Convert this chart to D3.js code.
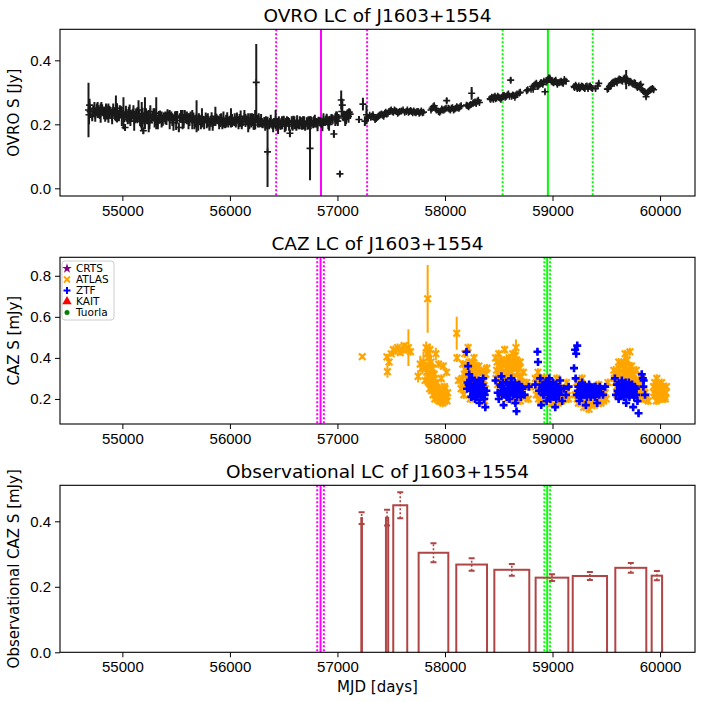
<!DOCTYPE html>
<html>
<head>
<meta charset="utf-8" />
<title>J1603+1554 light curves</title>
<script src="https://d3js.org/d3.v7.js"></script>
<style>
    body, html { margin: 0; padding: 0; background: #fff; }
    svg { display: block; font-family: "DejaVu Sans", sans-serif; }
    .tick text { font-size: 15px; fill: #000; }
    .title { font-size: 18.5px; text-anchor: middle; }
    .ylab, .xlab { font-size: 15px; text-anchor: middle; }
</style>
</head>
<body>
<div id="canvas"></div>
<script>
// OVRO 15 GHz points: [MJD, flux Jy, error]
var ovro = [
    [54685,0.245,0.085],[54690,0.23,0.03],[54695,0.26,0.02],[54720,0.225,0.015],[54740,0.25,0.02],
    [54755,0.238,0.012],[54770,0.245,0.025],[54790,0.232,0.015],[54805,0.25,0.02],[54820,0.24,0.012],
    [54840,0.228,0.02],[54855,0.245,0.015],[54870,0.235,0.03],[54890,0.242,0.012],[54905,0.22,0.02],
    [54925,0.238,0.015],[54940,0.25,0.04],[54960,0.23,0.015],[54975,0.24,0.02],[54995,0.225,0.03],
    [55010,0.235,0.05],[55025,0.19,0.01],[55040,0.228,0.02],[55060,0.24,0.015],[55075,0.22,0.025],
    [55095,0.235,0.012],[55110,0.21,0.03],[55130,0.23,0.02],[55150,0.245,0.03],[55165,0.215,0.02],
    [55180,0.225,0.045],[55195,0.18,0.01],[55210,0.235,0.05],[55230,0.22,0.02],[55245,0.21,0.035],
    [55260,0.24,0.02],[55280,0.225,0.015],[55300,0.22,0.03],[55315,0.235,0.05],[55330,0.205,0.02],
    [55350,0.228,0.015],[55365,0.215,0.025],[55385,0.225,0.012],[55400,0.22,0.02],[55420,0.232,0.015],
    [55440,0.215,0.03],[55455,0.225,0.015],[55475,0.205,0.025],[55490,0.228,0.012],[55510,0.222,0.02],
    [55525,0.19,0.015],[55545,0.225,0.02],[55560,0.215,0.03],[55580,0.23,0.015],[55600,0.22,0.02],
    [55615,0.21,0.025],[55635,0.225,0.015],[55650,0.215,0.03],[55670,0.205,0.02],[55690,0.225,0.05],
    [55705,0.2,0.02],[55720,0.215,0.015],[55740,0.22,0.03],[55760,0.205,0.02],[55775,0.222,0.015],
    [55795,0.215,0.02],[55810,0.195,0.015],[55830,0.218,0.02],[55850,0.21,0.015],[55865,0.225,0.03],
    [55885,0.212,0.012],[55900,0.205,0.02],[55920,0.22,0.015],[55940,0.215,0.025],[55955,0.2,0.012],
    [55975,0.218,0.02],[55995,0.212,0.015],[56010,0.22,0.03],[56030,0.208,0.012],[56045,0.215,0.02],
    [56065,0.222,0.015],[56080,0.205,0.02],[56100,0.218,0.025],[56120,0.21,0.015],[56135,0.225,0.02],
    [56155,0.212,0.012],[56170,0.205,0.03],[56190,0.22,0.015],[56205,0.215,0.02],[56220,0.208,0.025],
    [56235,0.215,0.03],[56245,0.331,0.12],[56260,0.21,0.02],[56275,0.205,0.015],[56290,0.212,0.02],
    [56305,0.2,0.012],[56320,0.208,0.015],[56335,0.205,0.02],[56350,0.114,0.11],[56365,0.2,0.015],
    [56380,0.21,0.02],[56395,0.198,0.012],[56410,0.205,0.015],[56425,0.215,0.03],[56440,0.2,0.02],
    [56455,0.21,0.015],[56470,0.195,0.012],[56485,0.205,0.02],[56500,0.212,0.015],[56520,0.2,0.02],
    [56540,0.208,0.015],[56558,0.172,0.012],[56575,0.205,0.02],[56590,0.212,0.015],[56610,0.198,0.012],
    [56625,0.208,0.02],[56640,0.2,0.015],[56660,0.21,0.012],[56680,0.205,0.02],[56700,0.195,0.015],
    [56715,0.21,0.012],[56730,0.205,0.02],[56745,0.125,0.1],[56760,0.208,0.015],[56775,0.2,0.012],
    [56790,0.21,0.02],[56805,0.205,0.015],[56825,0.212,0.012],[56850,0.205,0.015],[56870,0.215,0.02],
    [56885,0.208,0.012],[56900,0.218,0.015],[56915,0.205,0.02],[56930,0.212,0.015],[56945,0.22,0.012],
    [56967,0.17,0.012],[56980,0.215,0.02],[56995,0.225,0.015],[57010,0.22,0.012],[57023,0.045,0.008],
    [57035,0.276,0.03],[57045,0.26,0.02],[57055,0.225,0.015],[57065,0.23,0.012],[57080,0.22,0.02],
    [57095,0.232,0.015],[57110,0.238,0.012],[57200,0.215,0.01],[57237,0.263,0.02],[57255,0.21,0.015],
    [57270,0.23,0.03],[57285,0.22,0.01],
    [54700,0.24,0.02],[54730,0.245,0.015],[54748,0.228,0.02],[54762,0.25,0.015],[54780,0.24,0.02],
    [54798,0.235,0.03],[54812,0.248,0.015],[54830,0.236,0.02],[54848,0.24,0.025],[54862,0.23,0.015],
    [54880,0.238,0.02],[54898,0.232,0.015],[54915,0.245,0.02],[54932,0.228,0.015],[54950,0.236,0.03],
    [54968,0.225,0.015],[54985,0.238,0.02],[55018,0.222,0.015],[55033,0.238,0.02],[55050,0.215,0.015],
    [55068,0.232,0.03],[55085,0.225,0.015],[55103,0.24,0.02],[55120,0.218,0.015],[55140,0.228,0.025],
    [55158,0.232,0.015],[55172,0.21,0.02],[55188,0.222,0.03],[55203,0.215,0.015],[55220,0.23,0.02],
    [55238,0.225,0.015],[55252,0.205,0.02],[55270,0.218,0.015],[55290,0.23,0.02],[55308,0.212,0.015],
    [55340,0.222,0.02],[55375,0.21,0.015],[55410,0.218,0.02],[55430,0.225,0.015],[55465,0.215,0.02],
    [55500,0.212,0.03],[55535,0.22,0.015],[55570,0.208,0.02],[55590,0.218,0.015],[55625,0.215,0.02],
    [55660,0.222,0.015],[55680,0.21,0.02],[55712,0.22,0.015],[55730,0.205,0.02],[55750,0.212,0.015],
    [55785,0.208,0.02],[55820,0.212,0.015],[55840,0.2,0.02],[55875,0.218,0.015],[55910,0.212,0.02],
    [55930,0.2,0.015],[55965,0.21,0.02],[55985,0.205,0.015],[56020,0.212,0.02],[56055,0.205,0.015],
    [56090,0.212,0.02],[56110,0.2,0.015],[56145,0.212,0.02],[56180,0.2,0.015],[56198,0.21,0.02],
    [56228,0.198,0.015],[56268,0.215,0.02],[56298,0.205,0.015],[56328,0.2,0.02],[56372,0.205,0.015],
    [56402,0.195,0.02],[56432,0.205,0.015],[56448,0.19,0.02],[56478,0.205,0.015],[56510,0.195,0.02],
    [56530,0.21,0.015],[56550,0.2,0.02],[56583,0.195,0.015],[56600,0.205,0.02],[56618,0.195,0.015],
    [56650,0.205,0.02],[56670,0.198,0.015],[56690,0.205,0.02],[56722,0.198,0.015],[56752,0.205,0.02],
    [56782,0.21,0.015],[56815,0.198,0.02],[56840,0.208,0.015],[56860,0.198,0.02],[56892,0.212,0.015],
    [56922,0.2,0.02],[56955,0.215,0.015],[56988,0.22,0.02],[57003,0.21,0.015],[57040,0.24,0.015],
    [57072,0.215,0.02],[57088,0.228,0.015],[57103,0.225,0.02],[57118,0.232,0.015],
    [57300,0.228,0.006],[57320,0.225,0.005],[57340,0.222,0.006],[57360,0.218,0.005],[57380,0.225,0.006],
    [57400,0.23,0.005],[57420,0.228,0.006],[57440,0.235,0.005],[57460,0.232,0.006],[57480,0.24,0.005],
    [57500,0.245,0.006],[57520,0.238,0.005],[57540,0.242,0.006],[57560,0.235,0.005],[57580,0.24,0.006],
    [57610,0.245,0.005],[57640,0.24,0.006],[57660,0.238,0.005],[57680,0.243,0.006],[57700,0.236,0.005],
    [57720,0.238,0.006],[57740,0.24,0.005],[57760,0.235,0.006],[57780,0.242,0.005],[57800,0.238,0.006],
    [57870,0.245,0.006],[57890,0.255,0.005],[57910,0.25,0.006],[57940,0.24,0.005],[57960,0.242,0.006],
    [57980,0.245,0.005],[58000,0.248,0.006],[58016,0.274,0.008],[58030,0.25,0.005],[58050,0.245,0.006],
    [58070,0.252,0.005],[58090,0.248,0.006],[58110,0.255,0.005],[58130,0.25,0.006],[58150,0.258,0.005],
    [58200,0.26,0.006],[58220,0.255,0.005],[58240,0.262,0.006],[58248,0.297,0.02],[58260,0.265,0.005],
    [58280,0.27,0.006],[58300,0.272,0.005],[58320,0.268,0.006],[58420,0.28,0.005],[58435,0.285,0.006],
    [58450,0.278,0.005],[58465,0.288,0.006],[58480,0.282,0.005],[58500,0.285,0.006],[58520,0.278,0.005],
    [58540,0.29,0.006],[58560,0.285,0.005],[58580,0.292,0.006],[58600,0.288,0.005],[58611,0.338,0.008],
    [58630,0.292,0.006],[58650,0.285,0.005],[58670,0.295,0.006],[58700,0.3,0.005],[58760,0.305,0.006],
    [58800,0.31,0.005],[58815,0.318,0.006],[58830,0.322,0.005],[58850,0.328,0.006],[58870,0.32,0.005],
    [58890,0.33,0.006],[58910,0.325,0.005],[58930,0.302,0.006],[58945,0.332,0.005],[58960,0.34,0.006],
    [58975,0.345,0.005],[58990,0.335,0.006],[59010,0.33,0.005],[59030,0.338,0.006],[59045,0.325,0.005],
    [59060,0.33,0.006],[59080,0.335,0.005],[59100,0.328,0.006],[59125,0.335,0.005],[59200,0.318,0.006],
    [59215,0.322,0.005],[59230,0.312,0.006],[59245,0.32,0.005],[59260,0.315,0.006],[59280,0.318,0.005],
    [59300,0.312,0.006],[59320,0.32,0.005],[59340,0.318,0.006],[59360,0.315,0.005],[59400,0.312,0.006],
    [59420,0.32,0.005],[59430,0.328,0.006],[59510,0.31,0.005],[59530,0.318,0.006],[59545,0.325,0.005],
    [59560,0.33,0.006],[59575,0.328,0.005],[59590,0.335,0.006],[59610,0.338,0.005],[59630,0.34,0.006],
    [59650,0.335,0.005],[59670,0.345,0.006],[59685,0.34,0.03],[59700,0.338,0.005],[59720,0.335,0.006],
    [59740,0.328,0.005],[59760,0.33,0.006],[59780,0.32,0.005],[59800,0.318,0.006],[59820,0.325,0.005],
    [59840,0.305,0.006],[59860,0.3,0.005],[59870,0.286,0.006],[59880,0.298,0.005],[59900,0.305,0.006],
    [59920,0.31,0.005],[59940,0.308,0.006],
    [57310,0.222,0.005],[57330,0.23,0.006],[57350,0.215,0.005],[57370,0.222,0.006],[57390,0.228,0.005],
    [57410,0.232,0.006],[57430,0.225,0.005],[57450,0.238,0.006],[57470,0.235,0.005],[57490,0.242,0.006],
    [57510,0.24,0.005],[57530,0.245,0.006],[57550,0.24,0.005],[57570,0.238,0.006],[57595,0.242,0.005],
    [57625,0.238,0.006],[57650,0.245,0.005],[57670,0.24,0.006],[57690,0.24,0.005],[57710,0.242,0.006],
    [57730,0.236,0.005],[57750,0.24,0.006],[57770,0.238,0.005],[57790,0.236,0.006],[57880,0.25,0.005],
    [57900,0.258,0.006],[57920,0.245,0.005],[57950,0.238,0.006],[57970,0.248,0.005],[57990,0.245,0.006],
    [58010,0.25,0.005],[58040,0.248,0.006],[58060,0.25,0.005],[58080,0.245,0.006],[58100,0.25,0.005],
    [58120,0.252,0.006],[58140,0.255,0.005],[58210,0.258,0.005],[58230,0.26,0.006],[58270,0.268,0.005],
    [58290,0.265,0.006],[58310,0.275,0.005],[58425,0.278,0.006],[58440,0.282,0.005],[58455,0.285,0.006],
    [58470,0.28,0.005],[58490,0.288,0.006],[58510,0.282,0.005],[58530,0.285,0.006],[58550,0.29,0.005],
    [58570,0.288,0.006],[58590,0.295,0.005],[58620,0.288,0.006],[58640,0.29,0.005],[58660,0.292,0.006],
    [58690,0.298,0.005],[58770,0.308,0.006],[58820,0.31,0.005],[58840,0.325,0.006],[58860,0.318,0.005],
    [58880,0.325,0.006],[58900,0.33,0.005],[58920,0.335,0.006],[58950,0.338,0.005],[58965,0.345,0.006],
    [58980,0.34,0.005],[59000,0.332,0.006],[59020,0.335,0.005],[59040,0.33,0.006],[59070,0.332,0.005],
    [59090,0.33,0.006],[59110,0.34,0.005],[59205,0.315,0.005],[59222,0.318,0.006],[59238,0.315,0.005],
    [59252,0.312,0.006],[59270,0.32,0.005],[59290,0.315,0.006],[59310,0.318,0.005],[59330,0.312,0.006],
    [59350,0.32,0.005],[59370,0.312,0.006],[59520,0.312,0.005],[59538,0.32,0.006],[59552,0.328,0.005],
    [59568,0.332,0.006],[59582,0.335,0.005],[59600,0.33,0.006],[59620,0.342,0.005],[59640,0.338,0.006],
    [59660,0.342,0.005],[59678,0.335,0.006],[59692,0.342,0.005],[59710,0.33,0.006],[59730,0.332,0.005],
    [59750,0.325,0.006],[59770,0.328,0.005],[59790,0.315,0.006],[59810,0.322,0.005],[59830,0.31,0.006],
    [59850,0.302,0.005],[59890,0.302,0.006],[59910,0.308,0.005],[59930,0.312,0.006]
];

// ATLAS optical points: [MJD, flux mJy, error]
var atlas = [
    [57231,0.406,0.01],[57460,0.405,0.015],[57465,0.333,0.03],[57480,0.38,0.02],[57500,0.42,0.015],
    [57520,0.44,0.02],[57540,0.43,0.015],[57560,0.45,0.02],[57585,0.425,0.015],[57600,0.44,0.02],
    [57620,0.46,0.015],[57640,0.44,0.02],[57660,0.45,0.09],[57680,0.43,0.02],[57750,0.31,0.03],
    [57770,0.37,0.04],[57790,0.35,0.03],[57800,0.38,0.05],[57815,0.29,0.02],[57825,0.45,0.03],
    [57835,0.42,0.03],[57839,0.688,0.165],[57845,0.4,0.03],[57850,0.36,0.02],[57860,0.44,0.03],
    [57865,0.33,0.02],[57870,0.38,0.03],[57880,0.3,0.02],[57885,0.35,0.03],[57895,0.27,0.02],
    [57900,0.32,0.02],[57910,0.24,0.02],[57915,0.42,0.03],[57925,0.28,0.02],[57930,0.21,0.02],
    [57940,0.37,0.02],[57950,0.25,0.02],[57955,0.19,0.02],[57965,0.3,0.02],[57975,0.22,0.02],
    [57985,0.36,0.02],[57995,0.26,0.02],[58005,0.2,0.02],[58015,0.33,0.02],[58025,0.23,0.02],
    [58109,0.52,0.08],[58112,0.4,0.02],[58125,0.29,0.02],[58150,0.25,0.02],[58165,0.37,0.02],
    [58175,0.22,0.02],[58185,0.42,0.02],[58195,0.35,0.02],[58205,0.3,0.02],[58215,0.45,0.02],
    [58225,0.38,0.02],[58235,0.2,0.02],[58250,0.33,0.02],[58260,0.25,0.02],[58270,0.4,0.02],
    [58285,0.34,0.02],[58300,0.22,0.02],[58315,0.36,0.02],[58330,0.28,0.02],[58345,0.19,0.02],
    [58360,0.34,0.02],[58375,0.25,0.02],[58390,0.35,0.02],[58470,0.4,0.02],[58480,0.34,0.02],
    [58490,0.27,0.02],[58500,0.42,0.02],[58510,0.36,0.02],[58520,0.22,0.02],[58535,0.38,0.02],
    [58545,0.3,0.02],[58555,0.44,0.02],[58570,0.35,0.02],[58580,0.2,0.02],[58595,0.4,0.02],
    [58605,0.28,0.02],[58620,0.33,0.02],[58630,0.42,0.02],[58645,0.25,0.02],[58660,0.45,0.04],
    [58670,0.36,0.02],[58680,0.2,0.02],[58690,0.3,0.02],[58700,0.38,0.02],[58715,0.24,0.02],
    [58730,0.33,0.02],[58745,0.21,0.02],[58760,0.28,0.02],[58775,0.2,0.02],[58790,0.26,0.02],
    [58840,0.3,0.02],[58850,0.22,0.02],[58865,0.33,0.02],[58880,0.26,0.02],[58895,0.19,0.02],
    [58910,0.28,0.02],[58925,0.22,0.02],[58940,0.3,0.02],[58955,0.2,0.02],[58970,0.25,0.02],
    [58990,0.18,0.02],[59005,0.27,0.02],[59020,0.21,0.02],[59040,0.3,0.02],[59055,0.18,0.02],
    [59075,0.25,0.04],[59090,0.22,0.02],[59110,0.2,0.02],[59130,0.28,0.02],[59150,0.2,0.02],
    [59210,0.22,0.02],[59225,0.28,0.02],[59240,0.18,0.02],[59260,0.24,0.02],[59275,0.3,0.02],
    [59290,0.16,0.02],[59305,0.22,0.02],[59320,0.26,0.02],[59340,0.15,0.02],[59355,0.2,0.02],
    [59375,0.24,0.02],[59390,0.17,0.02],[59410,0.21,0.02],[59430,0.27,0.02],[59450,0.18,0.02],
    [59465,0.22,0.02],[59480,0.25,0.02],[59500,0.2,0.02],[59515,0.28,0.02],[59570,0.34,0.02],
    [59585,0.28,0.02],[59600,0.22,0.02],[59615,0.38,0.02],[59630,0.3,0.02],[59645,0.25,0.02],
    [59660,0.35,0.02],[59675,0.42,0.02],[59690,0.32,0.02],[59705,0.26,0.02],[59720,0.43,0.02],
    [59735,0.36,0.02],[59750,0.3,0.02],[59765,0.22,0.02],[59780,0.34,0.02],[59795,0.28,0.02],
    [59810,0.2,0.02],[59830,0.3,0.02],[59845,0.24,0.02],[59870,0.2,0.02],[59940,0.26,0.02],
    [59955,0.22,0.02],[59970,0.3,0.02],[59985,0.25,0.02],[60000,0.2,0.02],[60015,0.28,0.02],
    [60030,0.23,0.02],[60045,0.21,0.02],[60060,0.26,0.02],
    [57820,0.36,0.02],[57830,0.33,0.02],[57840,0.31,0.02],[57848,0.28,0.02],[57855,0.34,0.02],
    [57858,0.25,0.02],[57868,0.27,0.02],[57875,0.24,0.02],[57878,0.32,0.02],[57890,0.22,0.02],
    [57898,0.3,0.02],[57905,0.2,0.02],[57920,0.25,0.02],[57935,0.22,0.02],[57945,0.19,0.02],
    [57960,0.23,0.02],[57970,0.2,0.02],[57980,0.18,0.02],[57990,0.22,0.02],[58000,0.25,0.02],
    [58010,0.21,0.02],[58020,0.19,0.02],
    [58160,0.3,0.02],[58170,0.26,0.02],[58180,0.32,0.02],[58190,0.28,0.02],[58200,0.36,0.02],
    [58210,0.33,0.02],[58220,0.31,0.02],[58230,0.35,0.02],[58240,0.29,0.02],[58255,0.37,0.02],
    [58265,0.3,0.02],[58275,0.36,0.02],[58290,0.31,0.02],[58295,0.35,0.02],[58310,0.28,0.02],
    [58325,0.33,0.02],[58340,0.26,0.02],[58350,0.31,0.02],[58365,0.29,0.02],[58380,0.32,0.02],
    [58305,0.2,0.02],[58320,0.21,0.02],[58370,0.19,0.02],
    [58475,0.3,0.02],[58485,0.38,0.02],[58495,0.32,0.02],[58505,0.3,0.02],[58515,0.35,0.02],
    [58525,0.39,0.02],[58540,0.33,0.02],[58550,0.37,0.02],[58560,0.31,0.02],[58575,0.39,0.02],
    [58585,0.33,0.02],[58590,0.29,0.02],[58600,0.36,0.02],[58610,0.38,0.02],[58615,0.31,0.02],
    [58625,0.35,0.02],[58635,0.4,0.02],[58640,0.3,0.02],[58650,0.37,0.02],[58655,0.41,0.02],
    [58665,0.39,0.02],[58675,0.33,0.02],[58685,0.27,0.02],[58695,0.35,0.02],[58705,0.31,0.02],
    [58720,0.28,0.02],[58740,0.26,0.02],[58602,0.2,0.02],[58642,0.19,0.02],[58702,0.19,0.02],
    [58845,0.26,0.02],[58860,0.29,0.02],[58870,0.2,0.02],[58890,0.24,0.02],[58900,0.3,0.02],
    [58915,0.26,0.02],[58935,0.2,0.02],[58950,0.27,0.02],[58965,0.22,0.02],[58980,0.28,0.02],
    [58995,0.23,0.02],[59010,0.19,0.02],[59030,0.24,0.02],[59050,0.27,0.02],[59065,0.2,0.02],
    [59085,0.19,0.02],[59100,0.25,0.02],[59120,0.22,0.02],[59140,0.24,0.02],
    [59230,0.2,0.02],[59250,0.26,0.02],[59270,0.21,0.02],[59285,0.24,0.02],[59300,0.19,0.02],
    [59315,0.17,0.02],[59330,0.22,0.02],[59350,0.18,0.02],[59365,0.21,0.02],[59385,0.2,0.02],
    [59400,0.23,0.02],[59420,0.18,0.02],[59440,0.22,0.02],[59460,0.2,0.02],[59475,0.19,0.02],
    [59490,0.23,0.02],
    [59575,0.3,0.02],[59590,0.33,0.02],[59595,0.26,0.02],[59610,0.32,0.02],[59620,0.35,0.02],
    [59625,0.27,0.02],[59640,0.37,0.02],[59650,0.31,0.02],[59655,0.28,0.02],[59665,0.38,0.02],
    [59670,0.32,0.02],[59680,0.36,0.02],[59685,0.29,0.02],[59695,0.39,0.02],[59700,0.33,0.02],
    [59710,0.3,0.02],[59715,0.36,0.02],[59725,0.32,0.02],[59740,0.34,0.02],[59745,0.27,0.02],
    [59755,0.32,0.02],[59760,0.26,0.02],[59775,0.29,0.02],[59785,0.24,0.02],[59800,0.26,0.02],
    [59815,0.23,0.02],[59820,0.27,0.02],[59835,0.22,0.02],[59850,0.2,0.02],[59860,0.23,0.02],
    [59880,0.21,0.02],[59890,0.19,0.02],
    [59945,0.23,0.02],[59950,0.28,0.02],[59960,0.24,0.02],[59965,0.19,0.02],[59975,0.22,0.02],
    [59980,0.27,0.02],[59990,0.21,0.02],[59995,0.24,0.02],[60005,0.22,0.02],[60010,0.25,0.02],
    [60020,0.2,0.02],[60025,0.26,0.02],[60035,0.22,0.02],[60040,0.24,0.02],[60050,0.2,0.02],
    [60055,0.23,0.02]
];

// ZTF optical points: [MJD, flux mJy, error]
var ztf = [
    [58200,0.43,0.01],[58210,0.28,0.01],[58215,0.36,0.01],[58225,0.32,0.01],[58230,0.26,0.01],
    [58240,0.24,0.01],[58250,0.3,0.01],[58260,0.22,0.01],[58270,0.27,0.01],[58280,0.2,0.01],
    [58290,0.25,0.01],[58300,0.28,0.01],[58310,0.22,0.01],[58320,0.18,0.01],[58335,0.26,0.01],
    [58345,0.23,0.01],[58355,0.3,0.01],[58365,0.2,0.01],[58375,0.16,0.01],[58385,0.24,0.01],
    [58470,0.29,0.01],[58490,0.23,0.01],[58500,0.2,0.01],[58515,0.27,0.01],[58525,0.31,0.01],
    [58535,0.24,0.01],[58545,0.17,0.01],[58560,0.22,0.01],[58570,0.28,0.01],[58585,0.25,0.01],
    [58600,0.2,0.01],[58615,0.3,0.01],[58625,0.23,0.01],[58640,0.26,0.01],[58655,0.18,0.01],
    [58665,0.14,0.01],[58675,0.24,0.01],[58690,0.27,0.01],[58705,0.21,0.01],[58720,0.25,0.01],
    [58740,0.22,0.01],[58780,0.26,0.01],[58840,0.27,0.01],[58860,0.43,0.01],[58865,0.38,0.01],
    [58875,0.24,0.01],[58885,0.3,0.01],[58895,0.17,0.01],[58905,0.26,0.01],[58920,0.22,0.01],
    [58935,0.28,0.01],[58945,0.19,0.01],[58955,0.25,0.01],[58970,0.3,0.01],[58985,0.23,0.01],
    [58995,0.27,0.01],[59010,0.21,0.01],[59025,0.16,0.01],[59040,0.26,0.01],[59055,0.23,0.01],
    [59070,0.29,0.01],[59090,0.19,0.01],[59105,0.25,0.01],[59125,0.22,0.01],[59150,0.26,0.01],
    [59200,0.35,0.01],[59210,0.44,0.01],[59220,0.42,0.01],[59230,0.46,0.01],[59215,0.3,0.01],
    [59225,0.22,0.01],[59240,0.26,0.01],[59250,0.19,0.01],[59260,0.24,0.01],[59275,0.28,0.01],
    [59285,0.22,0.01],[59295,0.26,0.01],[59310,0.17,0.01],[59325,0.23,0.01],[59340,0.27,0.01],
    [59355,0.21,0.01],[59370,0.25,0.01],[59385,0.22,0.01],[59400,0.26,0.01],[59415,0.18,0.01],
    [59430,0.23,0.01],[59450,0.25,0.01],[59470,0.22,0.01],[59490,0.26,0.01],[59580,0.3,0.01],
    [59590,0.22,0.01],[59600,0.27,0.01],[59615,0.2,0.01],[59630,0.25,0.01],[59645,0.29,0.01],
    [59655,0.22,0.01],[59670,0.26,0.01],[59685,0.18,0.01],[59695,0.24,0.01],[59710,0.28,0.01],
    [59720,0.22,0.01],[59735,0.26,0.01],[59750,0.16,0.01],[59760,0.21,0.01],[59775,0.25,0.01],
    [59790,0.19,0.01],[59800,0.13,0.01],[59830,0.32,0.01],[59845,0.26,0.01],[59860,0.22,0.01],
    [58205,0.25,0.01],[58220,0.27,0.01],[58235,0.29,0.01],[58245,0.21,0.01],[58255,0.26,0.01],
    [58265,0.23,0.01],[58275,0.29,0.01],[58285,0.24,0.01],[58295,0.21,0.01],[58305,0.26,0.01],
    [58315,0.29,0.01],[58325,0.24,0.01],[58340,0.21,0.01],[58350,0.27,0.01],[58360,0.25,0.01],
    [58370,0.22,0.01],
    [58520,0.26,0.01],[58530,0.22,0.01],[58540,0.28,0.01],[58550,0.25,0.01],[58565,0.24,0.01],
    [58575,0.21,0.01],[58590,0.27,0.01],[58605,0.23,0.01],[58610,0.26,0.01],[58620,0.28,0.01],
    [58635,0.22,0.01],[58645,0.25,0.01],[58650,0.28,0.01],[58660,0.23,0.01],[58670,0.21,0.01],
    [58685,0.25,0.01],[58695,0.23,0.01],[58710,0.26,0.01],
    [58900,0.24,0.01],[58910,0.27,0.01],[58915,0.22,0.01],[58925,0.25,0.01],[58940,0.24,0.01],
    [58950,0.28,0.01],[58960,0.22,0.01],[58965,0.26,0.01],[58975,0.24,0.01],[58980,0.2,0.01],
    [58990,0.26,0.01],[59000,0.24,0.01],[59005,0.28,0.01],[59015,0.22,0.01],[59020,0.25,0.01],
    [59030,0.27,0.01],[59035,0.2,0.01],[59045,0.24,0.01],[59050,0.26,0.01],[59060,0.22,0.01],
    [59080,0.25,0.01],
    [59235,0.24,0.01],[59245,0.22,0.01],[59255,0.26,0.01],[59265,0.21,0.01],[59270,0.25,0.01],
    [59280,0.23,0.01],[59290,0.25,0.01],[59300,0.22,0.01],[59305,0.26,0.01],[59315,0.24,0.01],
    [59320,0.21,0.01],[59330,0.25,0.01],[59345,0.23,0.01],[59350,0.26,0.01],[59360,0.22,0.01],
    [59375,0.24,0.01],[59390,0.26,0.01],[59395,0.21,0.01],[59405,0.24,0.01],[59420,0.25,0.01],
    [59435,0.22,0.01],[59440,0.26,0.01],
    [59605,0.24,0.01],[59620,0.27,0.01],[59625,0.22,0.01],[59635,0.26,0.01],[59640,0.23,0.01],
    [59650,0.25,0.01],[59660,0.27,0.01],[59665,0.21,0.01],[59675,0.24,0.01],[59680,0.28,0.01],
    [59690,0.22,0.01],[59700,0.26,0.01],[59705,0.24,0.01],[59715,0.21,0.01],[59725,0.25,0.01],
    [59730,0.23,0.01],[59740,0.27,0.01],[59745,0.22,0.01],[59755,0.24,0.01],[59765,0.26,0.01],
    [59780,0.22,0.01],[59840,0.3,0.01],[59848,0.29,0.01]
];

// binned observational LC: [start MJD, end MJD, mean flux, error]
var obsBins = [
    [57222,57228,0.41,0.018],[57451,57472,0.411,0.024],[57519,57649,0.449,0.04],
    [57755,58031,0.304,0.029],[58105,58391,0.268,0.019],[58459,58784,0.252,0.018],
    [58843,59147,0.228,0.01],[59188,59507,0.233,0.012],[59584,59872,0.258,0.015],
    [59922,60019,0.234,0.014]
];

// flare markers (MJD): [dotted start, peak, dotted end]
var radioFlare1 = [56430, 56847, 57276];
var radioFlare2 = [58536, 58957, 59374];
var optFlare1 = [56812, 56843, 56874];
var optFlare2 = [58924, 58951, 58977];

var xTicks = [55000, 56000, 57000, 58000, 59000, 60000];
var legendNames = ["CRTS", "ATLAS", "ZTF", "KAIT", "Tuorla"];
var legendColors = ["purple", "orange", "blue", "red", "green"];

var W = 702, H = 702;
var left = 60, right = 695;

var svg = d3.select("#canvas").append("svg")
    .attr("width", W).attr("height", H);

var x = d3.scaleLinear().domain([54420, 60325]).range([left, right]);

// one panel: frame, axes, title, y-label
function panel(id, top, bottom, yDomain, yTicks, title, ylabel) {
    var y = d3.scaleLinear().domain(yDomain).range([bottom, top]);
    var g = svg.append("g");

    svg.append("clipPath").attr("id", "clip" + id)
        .append("rect").attr("x", left).attr("y", top)
        .attr("width", right - left).attr("height", bottom - top);

    var plot = g.append("g").attr("clip-path", "url(#clip" + id + ")");

    g.append("g").attr("transform", "translate(0," + bottom + ")")
        .call(d3.axisBottom(x).tickValues(xTicks).tickSize(5).tickPadding(4).tickFormat(d3.format("d")))
        .call(function(a) { a.select(".domain").remove(); });
    g.append("g").attr("transform", "translate(" + left + ",0)")
        .call(d3.axisLeft(y).tickValues(yTicks).tickSize(5).tickPadding(4).tickFormat(d3.format(".1f")))
        .call(function(a) { a.select(".domain").remove(); });

    g.append("text").attr("class", "title")
        .attr("x", (left + right) / 2).attr("y", top - 7).text(title);
    g.append("text").attr("class", "ylab")
        .attr("transform", "translate(19," + (top + bottom) / 2 + ") rotate(-90)")
        .text(ylabel);

    return { y: y, plot: plot, g: g, top: top, bottom: bottom };
}

function frame(p) {
    p.g.append("rect").attr("x", left).attr("y", p.top)
        .attr("width", right - left).attr("height", p.bottom - p.top)
        .attr("fill", "none").attr("stroke", "#000").attr("stroke-width", 1.1);
}

function flareLines(p, vals, color) {
    vals.forEach(function(v, i) {
        p.plot.append("line")
            .attr("x1", x(v)).attr("x2", x(v))
            .attr("y1", p.top).attr("y2", p.bottom)
            .attr("stroke", color).attr("stroke-width", 2)
            .attr("stroke-dasharray", i == 1 ? null : "2,2");
    });
}

function errPoints(p, data, color, ew, shape, size, sw) {
    p.plot.append("g").selectAll("line").data(data).enter().append("line")
        .attr("x1", function(d) { return x(d[0]); })
        .attr("x2", function(d) { return x(d[0]); })
        .attr("y1", function(d) { return p.y(d[1] - d[2]); })
        .attr("y2", function(d) { return p.y(d[1] + d[2]); })
        .attr("stroke", color).attr("stroke-width", ew);
    p.plot.append("g").selectAll("path").data(data).enter().append("path")
        .attr("transform", function(d) { return "translate(" + x(d[0]) + "," + p.y(d[1]) + ")"; })
        .attr("d", function() {
            var s = size;
            if (shape == "x") return "M" + (-s) + "," + (-s) + "L" + s + "," + s + "M" + (-s) + "," + s + "L" + s + "," + (-s);
            return "M" + (-s) + ",0L" + s + ",0M0," + (-s) + "L0," + s;
        })
        .attr("fill", "none").attr("stroke", color).attr("stroke-width", sw);
}

// ---- top: OVRO ----
var p1 = panel(1, 29.3, 196, [-0.024, 0.497], [0, 0.2, 0.4], "OVRO LC of J1603+1554", "OVRO S [Jy]");
flareLines(p1, radioFlare1, "#ff00ff");
flareLines(p1, radioFlare2, "#00ff00");
errPoints(p1, ovro, "#1a1a1a", 2, "+", 3.5, 1.6);
frame(p1);

// ---- middle: CAZ optical ----
var p2 = panel(2, 257.3, 424, [0.078, 0.89], [0.2, 0.4, 0.6, 0.8], "CAZ LC of J1603+1554", "CAZ S [mJy]");
flareLines(p2, optFlare1, "#ff00ff");
flareLines(p2, optFlare2, "#00ff00");
errPoints(p2, atlas, "orange", 2, "x", 3.3, 2.2);
errPoints(p2, ztf, "blue", 2, "+", 4, 2.6);
frame(p2);

// legend
var lg = p2.g.append("g");
lg.append("rect").attr("x", 62).attr("y", 261).attr("width", 52).attr("height", 59)
    .attr("rx", 3).attr("fill", "#fff").attr("fill-opacity", 0.8)
    .attr("stroke", "#ccc").attr("stroke-width", 1);
legendNames.forEach(function(name, i) {
    var cy = 268.5 + i * 11;
    var c = legendColors[i];
    var m;
    if (i == 0) m = lg.append("path").attr("d", d3.symbol().type(d3.symbolStar).size(30)()).attr("fill", c);
    else if (i == 1) m = lg.append("path").attr("d", "M-3,-3L3,3M-3,3L3,-3").attr("stroke", c).attr("stroke-width", 2);
    else if (i == 2) m = lg.append("path").attr("d", "M-3.5,0L3.5,0M0,-3.5L0,3.5").attr("stroke", c).attr("stroke-width", 2);
    else if (i == 3) m = lg.append("path").attr("d", d3.symbol().type(d3.symbolTriangle).size(38)()).attr("fill", c);
    else m = lg.append("circle").attr("r", 2.5).attr("fill", c);
    m.attr("transform", "translate(67," + cy + ")");
    lg.append("text").attr("x", 76).attr("y", cy + 3.8)
        .style("font-size", "10.5px").text(name);
});

// ---- bottom: binned observational LC ----
var p3 = panel(3, 485.3, 652.3, [0, 0.51], [0, 0.2, 0.4], "Observational LC of J1603+1554", "Observational CAZ S [mJy]");
flareLines(p3, optFlare1, "#ff00ff");
flareLines(p3, optFlare2, "#00ff00");

var barColor = "#b04545";
p3.plot.append("g").selectAll("rect").data(obsBins).enter().append("rect")
    .attr("x", function(d) { return x(d[0]); })
    .attr("width", function(d) { return Math.max(0.5, x(d[1]) - x(d[0])); })
    .attr("y", function(d) { return p3.y(d[2]); })
    .attr("height", function(d) { return p3.y(0) - p3.y(d[2]) + 3; })
    .attr("fill", "none").attr("stroke", barColor).attr("stroke-width", 2);

var eb = p3.plot.append("g").selectAll("g").data(obsBins).enter().append("g")
    .attr("transform", function(d) { return "translate(" + x((d[0] + d[1]) / 2) + ",0)"; });
eb.append("line")
    .attr("y1", function(d) { return p3.y(d[2] - d[3]); })
    .attr("y2", function(d) { return p3.y(d[2] + d[3]); })
    .attr("stroke", barColor).attr("stroke-width", 1.6).attr("stroke-dasharray", "2,2");
eb.append("line").attr("x1", -3).attr("x2", 3)
    .attr("y1", function(d) { return p3.y(d[2] - d[3]); })
    .attr("y2", function(d) { return p3.y(d[2] - d[3]); })
    .attr("stroke", barColor).attr("stroke-width", 2);
eb.append("line").attr("x1", -3).attr("x2", 3)
    .attr("y1", function(d) { return p3.y(d[2] + d[3]); })
    .attr("y2", function(d) { return p3.y(d[2] + d[3]); })
    .attr("stroke", barColor).attr("stroke-width", 2);
frame(p3);

svg.append("text").attr("class", "xlab")
    .attr("x", (left + right) / 2).attr("y", 692).text("MJD [days]");
</script>
</body>
</html>
